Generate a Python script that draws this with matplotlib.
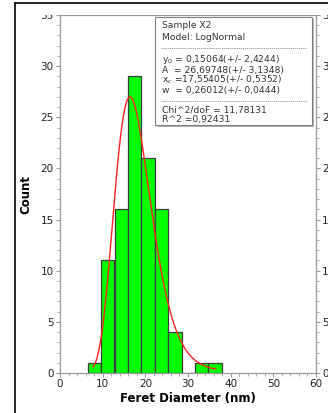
import numpy as np
import matplotlib
matplotlib.use("Agg")
from matplotlib import pyplot as plt
from matplotlib.lines import Line2D
from matplotlib.patches import Rectangle
from matplotlib.ticker import MultipleLocator

# Histogram bins (nm) and counts.
bin_left = [6.5, 9.6, 12.8, 15.9, 19.1, 22.2, 25.4, 28.5, 31.6, 34.8]
bin_width = 3.14
counts = [1, 11, 16, 29, 21, 16, 4, 0, 1, 1]

# LogNormal fit shown in the box; peak height.
y0 = 0.15064
xc = 17.55405
w = 0.26012
fit_peak = 27.0
fit_range = (7.8, 36.5)

info_lines = [
    "Sample X2",
    "Model: LogNormal",
    None,
    "y$_0$ = 0,15064(+/- 2,4244)",
    "A  = 26,69748(+/- 3,1348)",
    "x$_c$ =17,55405(+/- 0,5352)",
    "w  = 0,26012(+/- 0,0444)",
    None,
    "Chi^2/doF = 11,78131",
    "R^2 =0,92431",
]

W, H = 328, 413
fig = plt.figure(figsize=(W / 100, H / 100), dpi=100)
ax = fig.add_axes([60 / W, 1 - 373 / H, 256 / W, 358 / H])

grey = "#9a9a9a"
ax.bar(bin_left, counts, width=bin_width, align="edge",
       color="#00ff00", edgecolor="#3c3c3c", linewidth=0.9, zorder=2)

x = np.linspace(fit_range[0], fit_range[1], 300)
shape = np.exp(-np.log(x / xc) ** 2 / (2 * w ** 2)) / x
mode = xc * np.exp(-w ** 2)
k = (fit_peak - y0) / (np.exp(-np.log(mode / xc) ** 2 / (2 * w ** 2)) / mode)
ax.plot(x, y0 + k * shape, color="#ff2020", linewidth=1.0, zorder=3)

ax.set_xlim(0, 60)
ax.set_ylim(0, 35)
ax.xaxis.set_major_locator(MultipleLocator(10))
ax.xaxis.set_minor_locator(MultipleLocator(2))
ax.yaxis.set_major_locator(MultipleLocator(5))
ax.yaxis.set_minor_locator(MultipleLocator(1))
ax.tick_params(which="both", direction="out", color=grey, labelsize=7.5,
               labelcolor="#222222", right=True, labelright=True, pad=1.5)
ax.tick_params(which="major", length=3, width=0.8)
ax.tick_params(which="minor", length=2, width=0.6)
for s in ax.spines.values():
    s.set_color(grey)
    s.set_linewidth(0.9)

ax.set_xlabel("Feret Diameter (nm)", fontsize=8.5, fontweight="bold", labelpad=2)
ax.set_ylabel("Count", fontsize=8.5, fontweight="bold", labelpad=6)

# info box
bx0, by0, bx1, by1 = 155 / W, 1 - 125 / H, 312 / W, 1 - 17 / H
fig.patches.append(Rectangle((bx0 + 2 / W, by0 - 2 / H), bx1 - bx0, by1 - by0,
                             transform=fig.transFigure, facecolor="#b0b0b0",
                             edgecolor="none", zorder=5))
fig.patches.append(Rectangle((bx0, by0), bx1 - bx0, by1 - by0,
                             transform=fig.transFigure, facecolor="white",
                             edgecolor="#808080", linewidth=0.8, zorder=6))
ys = [26, 37, 48, 60, 70.5, 80, 90, 101, 110, 119.5]
for ypx, line in zip(ys, info_lines):
    if line is None:
        fig.lines.append(Line2D([bx0 + 6 / W, bx1 - 6 / W], [1 - ypx / H] * 2,
                                transform=fig.transFigure, color="#909090",
                                linewidth=0.6, linestyle=(0, (1.5, 1)), zorder=7))
    else:
        fig.text(162 / W, 1 - ypx / H, line, fontsize=6.6, color="#333333",
                 va="center", ha="left", zorder=7)

# white strip clipping the top tick labels, and the outer frame
fig.patches.append(Rectangle((15 / W, 1 - 14.5 / H), 1, 11.5 / H,
                             transform=fig.transFigure, facecolor="white",
                             edgecolor="none", zorder=4))
fig.lines.append(Line2D([15 / W, 15 / W], [0, 1 - 3 / H], transform=fig.transFigure,
                        color="black", linewidth=1.2, zorder=8))
fig.lines.append(Line2D([15 / W, 1], [1 - 3 / H] * 2, transform=fig.transFigure,
                        color="black", linewidth=1.2, zorder=8))

fig.savefig("out.png", dpi=100)
